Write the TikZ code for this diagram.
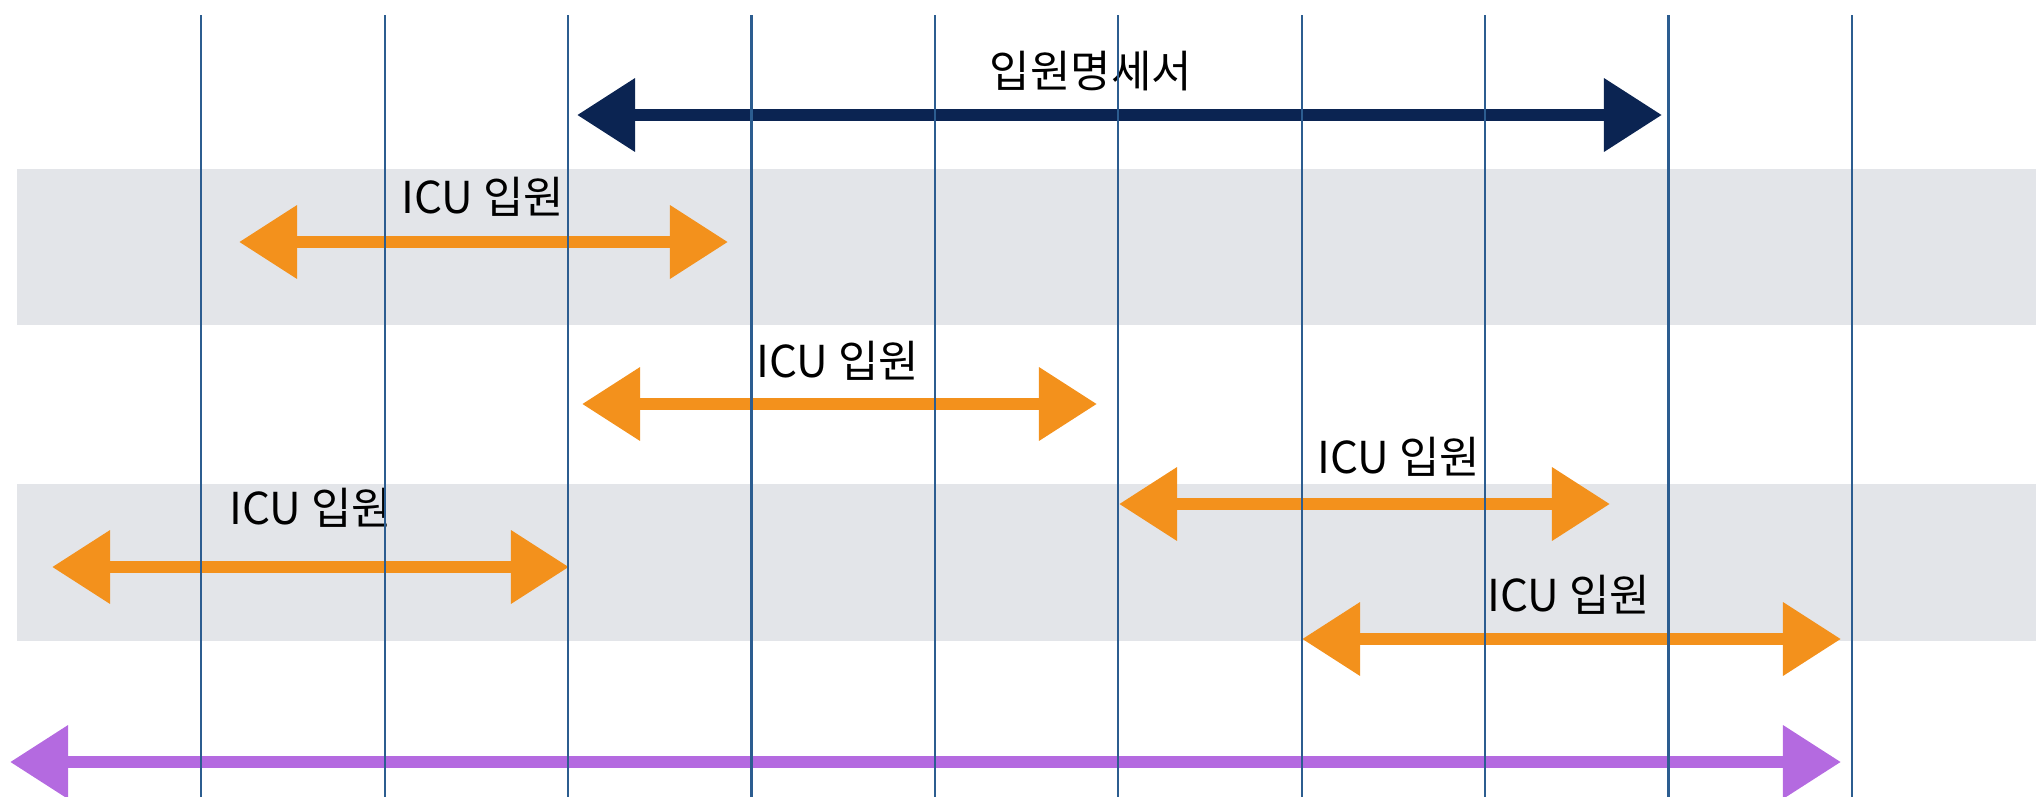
\documentclass[tikz,border=0pt]{standalone}
\usepackage{fontspec}
\setmainfont{Noto Sans CJK KR}
\usetikzlibrary{arrows.meta}
\definecolor{navyspan}{HTML}{0B2452}
\definecolor{icuorange}{HTML}{F3911C}
\definecolor{allpurple}{HTML}{B46AE0}
\definecolor{bandgray}{HTML}{E3E5E9}
\definecolor{gridblue}{HTML}{2C5D90}
\begin{document}
\begin{tikzpicture}[x=0.01cm,y=-0.01cm,line join=round,line cap=round,
	gridline/.style={gridblue,line width=0.6pt,line cap=butt},
	band/.style={fill=bandgray},
	stay/.style={line width=3.6pt,{Triangle[length=16.5pt,width=20pt]}-{Triangle[length=16.5pt,width=20pt]}},
	lbl/.style={font=\fontsize{12.5}{14}\selectfont,inner sep=0pt}]
				\useasboundingbox (0,0) rectangle (2036,797);
				\fill[band] (17,169) rectangle (2036,325);
				\fill[band] (17,484) rectangle (2036,641);
				\coordinate (nL) at (577,115);
				\coordinate (nR) at (1662,115);
				\coordinate (aL) at (239,242);
				\coordinate (aR) at (728,242);
				\coordinate (bL) at (582,404);
				\coordinate (bR) at (1097,404);
				\coordinate (cL) at (1119,504);
				\coordinate (cR) at (1610,504);
				\coordinate (dL) at (52,567);
				\coordinate (dR) at (569,567);
				\coordinate (eL) at (1302,639);
				\coordinate (eR) at (1841,639);
				\coordinate (pL) at (10,762);
				\coordinate (pR) at (1841,762);
				\draw[stay,navyspan] (nL)--(nR);
				\draw[stay,icuorange] (aL)--(aR);
				\draw[stay,icuorange] (bL)--(bR);
				\draw[stay,icuorange] (cL)--(cR);
				\draw[stay,icuorange] (dL)--(dR);
				\draw[stay,icuorange] (eL)--(eR);
				\draw[stay,allpurple] (pL)--(pR);
				\node[lbl] (nT) at (1091,71) {입원명세서};
				\node[lbl] (aT) at (483,197) {ICU 입원};
				\node[lbl] (bT) at (838,361) {ICU 입원};
				\node[lbl] (cT) at (1399,457) {ICU 입원};
				\node[lbl] (dT) at (311,508) {ICU 입원};
				\node[lbl] (eT) at (1569,595) {ICU 입원};
				\foreach \i in {0,...,9}
					\draw[gridline] ({201.3+183.4*\i},15)--({201.3+183.4*\i},797);
			\end{tikzpicture}
\end{document}
